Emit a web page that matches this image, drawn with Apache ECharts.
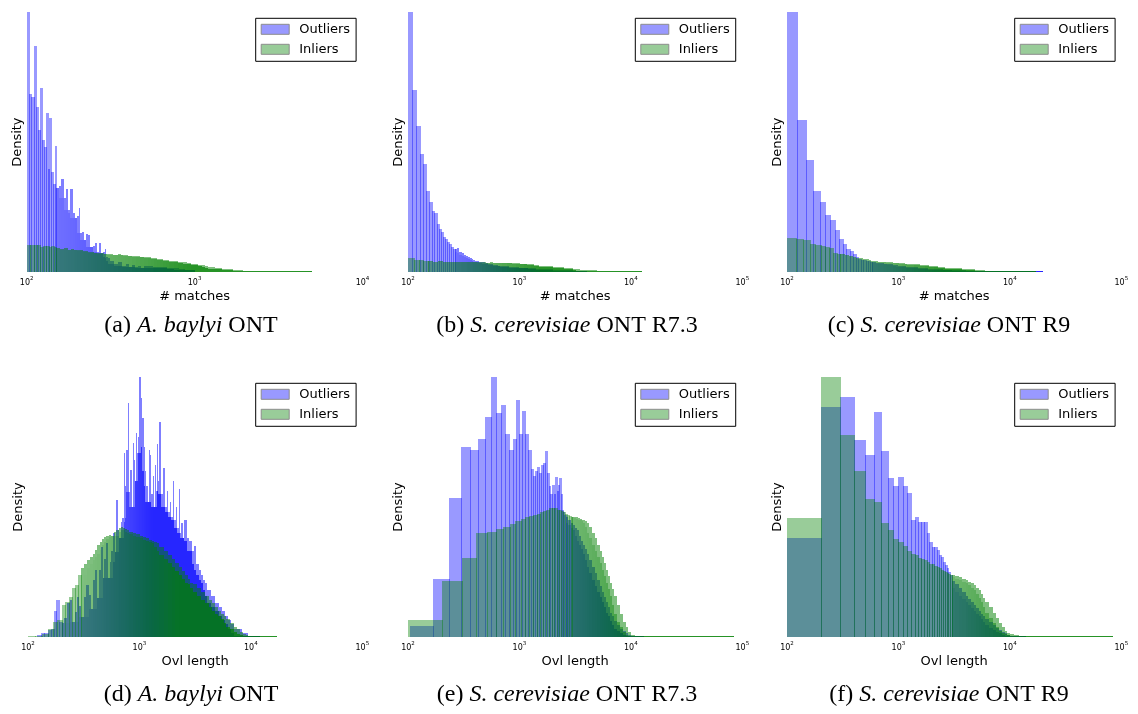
<!DOCTYPE html>
<html>
<head>
<meta charset="utf-8">
<script src="https://cdn.jsdelivr.net/npm/echarts@6/dist/echarts.min.js"></script>
<style>
html,body{margin:0;padding:0;background:#fff;}
#chart{width:1138px;height:714px;}
</style>
</head>
<body>
<div id="chart"></div>
<script>
// ---------------- DATA ----------------
// Each histogram: bin segments [from, to, numberOfBins] (linear bins inside each segment)
// and the bar heights (relative density, 100 = tallest bar of the panel).
// *BinWidth = width of one original histogram bin (data units).

// (a) A. baylyi ONT — # matches
const aOutlierBins = [[100,150,15],[150,225,14],[225,313,12],[313,500,10],[500,1000,8]];
const aOutlierHeights = [100,68.4,67.3,87,63.5,54.7,70.8,50.8,48.1,61.2,39.6,59.3,38.7,33.9,48.5,
  32.4,33.3,35.9,28.7,32,23.9,32,22.7,20.7,21.8,24.7,15,15.4,12.4,
  14.6,14.3,9.6,10,11.3,7.9,11.3,7.3,7.9,8.8,6,5.4,
  4.5,3,3.8,2.5,3.2,2.2,2.8,2,2.4,1.8,
  2.3,2.1,1.9,1.7,1.5,1.2,0.9,0.7];
const aOutlierBinWidth = 3.4;
const aInlierBins = [[100,150,10],[150,250,12],[250,400,12],[400,700,12],[700,1200,10],[1200,2200,8],[2200,5000,6]];
const aInlierHeights = [10.5,10.4,10.6,10.3,9.8,10.2,10.0,9.9,10.1,9.8,
  9.2,8.9,9.3,8.6,8.8,8.5,8.7,8.4,8.2,8.0,7.8,7.7,
  7.6,7.4,7.5,7.1,7.0,7.2,6.8,6.7,6.9,6.6,6.5,6.7,
  6.4,6.2,6.3,6.0,5.9,6.0,5.6,5.5,5.3,5.0,4.9,4.7,
  4.5,4.2,4.0,3.8,3.5,3.3,3.0,2.9,2.7,2.5,
  2.1,1.8,1.4,1.1,0.9,0.7,0.5,0.4,
  0.35,0.3,0.3,0.25,0.25,0.2];
const aInlierBinWidth = 5;

// (b) S. cerevisiae ONT R7.3 — # matches
const bOutlierBins = [[100,262,18],[262,400,10],[400,700,10],[700,1500,8],[1500,4000,5]];
const bOutlierHeights = [100,70,56.2,45.5,41.7,31.2,27,23.6,22.8,18.6,16.6,15.5,13.6,12.8,11.7,10.9,9.7,9.0,
  8.8,9.2,7.8,7.4,6.8,6.4,6.0,5.4,5.1,4.8,
  4.5,4.1,3.8,3.6,3.3,3.1,2.9,2.7,2.6,2.4,
  2.3,2.1,1.9,1.8,1.7,1.6,1.5,1.4,
  1.2,1.0,0.8,0.6,0.4];
const bOutlierBinWidth = 9;
const bInlierBins = [[100,150,4],[150,300,8],[300,700,10],[700,1500,10],[1500,3500,8],[3500,12500,6]];
const bInlierHeights = [5.5,4.6,4.6,4.3,
  4.2,4.1,4.2,4.0,4.1,3.9,4.0,3.9,
  3.9,3.8,3.9,3.8,3.8,3.7,3.8,3.7,3.6,3.7,
  3.6,3.5,3.5,3.4,3.3,3.2,3.1,3.0,2.9,2.8,
  2.5,2.3,2.1,1.9,1.7,1.5,1.3,1.1,
  0.8,0.55,0.4,0.3,0.25,0.2];
const bInlierBinWidth = 12.5;

// (c) S. cerevisiae ONT R9 — # matches
const cOutlierBins = [[100,580,20],[580,1000,8],[1000,2000,6],[2000,5000,6],[5000,17000,3],[17000,19700,1]];
const cOutlierHeights = [100,58.5,43,31.2,27,22,20.1,16.3,12.8,10.8,9.0,8.3,7.0,5.9,5.1,4.9,4.6,4.5,4.2,4.0,
  3.9,3.7,3.5,3.3,3.2,3.0,2.9,2.7,
  2.4,2.1,1.9,1.7,1.5,1.4,
  1.2,1.0,0.9,0.75,0.6,0.5,
  0.3,0.2,0.15,
  0.1];
const cOutlierBinWidth = 24;
const cInlierBins = [[100,300,10],[300,600,10],[600,1200,10],[1200,2600,8],[2600,6000,6],[6000,17000,4]];
const cInlierHeights = [13.1,12.8,12.4,10.8,10.4,10.0,9.6,9.2,7.5,7.2,
  6.9,6.6,6.3,5.9,5.6,5.4,5.2,5.0,4.7,4.5,
  4.2,4.1,4.0,3.9,3.8,3.7,3.6,3.5,3.4,3.2,
  3.1,3.0,2.9,2.7,2.6,2.4,2.2,2.0,
  1.8,1.6,1.4,1.2,1.0,0.7,
  0.5,0.4,0.35,0.3];
const cInlierBinWidth = 20;

// (d) A. baylyi ONT — Ovl length
const dOutlierBins = [[120,200,8],[200,300,8],[300,500,12],[500,700,10],[700,1000,14],[1000,1500,16],[1500,2500,16],[2500,4000,10],[4000,7000,8],[7000,12000,4]];
const dOutlierHeights = [1.0,1.5,1.8,2.8,3.2,10.2,14.3,6.0,
  5.4,7.3,13,14.3,6,9.8,15.6,12,
  7.9,15.6,20,16.2,11,22,25.8,15,25.8,34.8,22.6,30,
  36,22.6,29,33,40,32.9,52.7,41.2,38,44.4,
  45.7,70.6,58,71.9,89.8,55.9,64.2,50,74.4,68,60,78.5,70.6,76.7,
  100,91.7,84,73,64,58,52,72,70,55,62,50,66,56,74,60,
  82.7,55,65,50,56,48,52,46,60,45,50,42,57,40,44,38,
  45,38,37,33,35,28,26,24,22,21,
  18,16,13,11.5,10,8,6.5,5,
  3,1.5,0.6,0.2];
const dOutlierBinWidth = 10;
const dInlierBins = [[100,200,6],[200,300,6],[300,500,10],[500,800,10],[800,1500,10],[1500,3000,10],[3000,6000,10],[6000,10000,8],[10000,17000,4]];
const dInlierHeights = [0.5,0.6,1.4,3.3,5.8,6.5,
  12.4,13.5,15.3,19,20.1,24,
  26.5,28.1,29.5,30.9,32,33.5,35.4,36.5,37.6,38.5,
  38.9,39.3,39,40.5,41.2,41.8,42.5,42,41.5,41,
  40.5,40,39.5,39,38.5,38,37.5,37,36.5,36,
  34.5,33,31.5,30,28.5,27,25.5,24,22.5,21,
  20.5,19,17.5,16,14.5,13,11.5,10,9,8,
  7,5.5,4,3,2,1.4,0.9,0.6,
  0.35,0.3,0.25,0.2];
const dInlierBinWidth = 17;

// (e) S. cerevisiae ONT R7.3 — Ovl length
const eOutlierBins = [[105,2601,39],[2601,4000,10],[4000,7000,12],[7000,10000,6],[10000,13000,2]];
const eOutlierHeights = [4.5,22.4,53.6,72.9,71.9,76,84.7,100,86,89,78,72,76,91,78,87,78,72,64.5,62,
  64,65.5,63,66,67,71.5,63,58,55,58.5,55,61.6,56,58.5,61,55,49,48,47,
  46,45,44,43,42,41,39,37,35.5,34,
  32,29.5,27,24.5,22,19.5,17.5,15.5,13.5,11.5,9.5,8,
  6.2,4.6,3.3,2.3,1.5,1.0,
  0.4,0.2];
const eOutlierBinWidth = 64;
const eInlierBins = [[97,2981,28],[2981,4000,8],[4000,7000,12],[7000,10000,6],[10000,13000,3],[13000,85000,4]];
const eInlierHeights = [6.6,21.6,30.3,40,40.5,41.5,42.5,43.5,44.5,45.5,46,46.5,47,47.5,48,48.5,49,49.5,49.5,49.5,49,49,48.5,48,47.5,47,46.5,46,
  46,46,46,45.8,45.5,45.2,45,44.7,
  44,42.5,40,38,35.5,33,31,28.5,26,23.5,21,18.5,
  16,12.5,9,6,3.8,2.2,
  1.0,0.6,0.4,
  0.3,0.25,0.2,0.15];
const eInlierBinWidth = 103;

// (f) S. cerevisiae ONT R9 — Ovl length
const fOutlierBins = [[100,3000,29],[3000,6000,12],[6000,10000,8],[10000,14000,2]];
const fOutlierHeights = [38,88.3,92.2,75.8,70,86.4,71.6,61.1,57.9,61.5,57.9,55.3,45,46.2,44.4,44.4,44.2,40,36.4,34.8,34.8,33.5,31.6,31,29,27.7,26.5,25.2,23.9,
  21.5,20.5,19,17.5,16,14.8,13.6,12.4,11.2,10,9,8,
  7,5.8,4.7,3.7,2.8,2.1,1.5,1.0,
  0.5,0.2];
const fOutlierBinWidth = 100;
const fInlierBins = [[100,3000,29],[3000,6000,12],[6000,10000,8],[10000,14000,4],[14000,85000,4]];
const fInlierHeights = [45.8,100,77.7,64,53.2,52,43.8,41,37.6,36.4,35,33,32,31.5,30.5,30,29.5,29,28.3,28,27.5,27,26.5,26,25.6,25.2,24.8,24.4,24,
  23.8,23.5,23,22.5,22,21.3,20.7,20,19,18,16.5,15,
  13.5,11.5,9.5,7.5,5.5,3.8,2.6,1.8,
  1.1,0.7,0.45,0.35,
  0.3,0.25,0.2,0.15];
const fInlierBinWidth = 100;

// axes / labels
const seriesNames = ['Outliers', 'Inliers'];
const xAxisNames = ['# matches', '# matches', '# matches', 'Ovl length', 'Ovl length', 'Ovl length'];
const yAxisName = 'Density';
const xAxisMin = 100;
const xAxisMax = [1e4, 1e5, 1e5, 1e5, 1e5, 1e5];
const captionLetters = ['(a)', '(b)', '(c)', '(d)', '(e)', '(f)'];
const captionSpecies = ['A. baylyi', 'S. cerevisiae', 'S. cerevisiae', 'A. baylyi', 'S. cerevisiae', 'S. cerevisiae'];
const captionTech = ['ONT', 'ONT R7.3', 'ONT R9', 'ONT', 'ONT R7.3', 'ONT R9'];

// ---------------- LAYOUT ----------------
const grids = [
  {left: 26.7, top: 12, width: 335.8, height: 260.3},
  {left: 408, top: 12, width: 334.3, height: 260.3},
  {left: 787, top: 12, width: 334.3, height: 260.3},
  {left: 28, top: 376.7, width: 334.3, height: 260.6},
  {left: 408, top: 376.7, width: 334.3, height: 260.6},
  {left: 787, top: 376.7, width: 334.3, height: 260.6}
];
const legendPos = [[255.7, 18.3], [635.3, 18.3], [1014.7, 18.3], [255.7, 383.3], [635.3, 383.3], [1014.7, 383.3]];
const captionX = [191, 567, 949];
const captionY = [326, 695];

const BLUE = '0,0,255';
const GREEN = '0,128,0';
const FONT = 'DejaVu Sans';

const panels = [
  [aOutlierBins, aOutlierHeights, aOutlierBinWidth, aInlierBins, aInlierHeights, aInlierBinWidth],
  [bOutlierBins, bOutlierHeights, bOutlierBinWidth, bInlierBins, bInlierHeights, bInlierBinWidth],
  [cOutlierBins, cOutlierHeights, cOutlierBinWidth, cInlierBins, cInlierHeights, cInlierBinWidth],
  [dOutlierBins, dOutlierHeights, dOutlierBinWidth, dInlierBins, dInlierHeights, dInlierBinWidth],
  [eOutlierBins, eOutlierHeights, eOutlierBinWidth, eInlierBins, eInlierHeights, eInlierBinWidth],
  [fOutlierBins, fOutlierHeights, fOutlierBinWidth, fInlierBins, fInlierHeights, fInlierBinWidth]
];

function buildData(bins, heights) {
  const out = [];
  let k = 0;
  bins.forEach(function (s) {
    const a = s[0], b = s[1], n = s[2];
    for (let i = 0; i < n; i++) {
      out.push([a + (b - a) * i / n, a + (b - a) * (i + 1) / n, heights[k++]]);
    }
  });
  if (k !== heights.length) console.warn('bin/height mismatch', k, heights.length);
  return out;
}

function histSeries(name, rgb, gi, bins, heights, binW) {
  const data = buildData(bins, heights);
  return {
    type: 'custom',
    name: name,
    xAxisIndex: gi,
    yAxisIndex: gi,
    silent: true,
    animation: false,
    itemStyle: {color: 'rgba(' + rgb + ',0.4)'},
    encode: {x: [0, 1], y: 2},
    data: data,
    renderItem: function (params, api) {
      const x0 = api.value(0), x1 = api.value(1), h = api.value(2);
      if (!(h > 0)) return null;
      const cs = params.coordSys;
      const p0 = api.coord([x0, h]);
      const p1 = api.coord([x1, 0]);
      if (p1[0] < cs.x) return null;
      const bottom = Math.round(p1[1]);
      const top = Math.min(Math.round(p0[1]), bottom - 1);
      let left = Math.round(Math.max(p0[0], cs.x));
      let right = Math.round(Math.min(p1[0], cs.x + cs.width));
      const seam = (x1 - x0 <= binW * 1.01);
      if (seam) right = Math.min(right + 1, Math.round(cs.x + cs.width));
      if (right - left < 1) right = left + 1;
      if (seam) {
        return {
          type: 'rect',
          shape: {x: left, y: top, width: right - left, height: bottom - top},
          style: {fill: 'rgba(' + rgb + ',0.4)'}
        };
      }
      // many original bins per drawn bar: overlapping bins give a denser colour
      const xm = Math.sqrt(x0 * x1);
      const pT = api.coord([xm + binW / 2, 0])[0] - api.coord([xm - binW / 2, 0])[0];
      const dense = Math.min(0.85, 1 - Math.pow(0.6, 1 + 1 / pT));
      const i = params.dataIndex;
      let low = h;
      for (let j = i - 2; j <= i + 2; j++) {
        if (j >= 0 && j < data.length) low = Math.min(low, data[j][2]);
      }
      const midY = Math.min(Math.round(api.coord([xm, low])[1]), bottom - 1);
      const children = [{
        type: 'rect',
        shape: {x: left, y: midY, width: right - left, height: bottom - midY},
        style: {fill: 'rgba(' + rgb + ',' + dense.toFixed(3) + ')'}
      }];
      if (midY > top) {
        children.push({
          type: 'rect',
          shape: {x: left, y: top, width: right - left, height: midY - top},
          style: {fill: 'rgba(' + rgb + ',0.5)'}
        });
      }
      return {type: 'group', children: children};
    }
  };
}

const series = [];
panels.forEach(function (p, gi) {
  series.push(histSeries(seriesNames[0], BLUE, gi, p[0], p[1], p[2]));
  series.push(histSeries(seriesNames[1], GREEN, gi, p[3], p[4], p[5]));
});

const xAxes = grids.map(function (g, i) {
  return {
    type: 'log',
    logBase: 10,
    gridIndex: i,
    min: xAxisMin,
    max: xAxisMax[i],
    axisLine: {show: false},
    axisTick: {show: false},
    minorTick: {show: false},
    splitLine: {show: false},
    axisLabel: {
      margin: 3,
      showMinLabel: true,
      showMaxLabel: true,
      formatter: function (v) {
        return '{b|10}{e|' + Math.round(Math.log10(v)) + '}';
      },
      rich: {
        b: {fontSize: 8, fontFamily: FONT, color: '#000', lineHeight: 12, verticalAlign: 'bottom'},
        e: {fontSize: 5.5, fontFamily: FONT, color: '#000', lineHeight: 7, verticalAlign: 'top'}
      }
    },
    name: xAxisNames[i],
    nameLocation: 'middle',
    nameGap: 18,
    nameTextStyle: {fontSize: 13, color: '#000', fontFamily: FONT}
  };
});

const yAxes = grids.map(function (g, i) {
  return {
    type: 'value',
    gridIndex: i,
    min: 0,
    max: 100,
    axisLine: {show: false},
    axisTick: {show: false},
    axisLabel: {show: false},
    splitLine: {show: false},
    name: yAxisName,
    nameLocation: 'middle',
    nameGap: 3,
    nameTextStyle: {fontSize: 13, color: '#000', fontFamily: FONT}
  };
});

const legends = legendPos.map(function (pos) {
  return {
    left: pos[0],
    top: pos[1],
    orient: 'vertical',
    data: seriesNames,
    selectedMode: false,
    icon: 'rect',
    itemWidth: 28,
    itemHeight: 10,
    itemGap: 6,
    padding: [4, 6, 5, 5],
    borderColor: '#000',
    borderWidth: 1,
    borderRadius: 0,
    backgroundColor: '#fff',
    itemStyle: {borderColor: '#8c8c8c', borderWidth: 1},
    textStyle: {fontSize: 13, color: '#000', fontFamily: FONT, lineHeight: 14, padding: [0, 0, 0, 5]}
  };
});

const graphics = captionLetters.map(function (letter, i) {
  return {
    type: 'text',
    x: captionX[i % 3],
    y: captionY[Math.floor(i / 3)],
    silent: true,
    style: {
      text: '{n|' + letter + ' }{i|' + captionSpecies[i] + '}{n| ' + captionTech[i] + '}',
      textAlign: 'center',
      textVerticalAlign: 'middle',
      fill: '#000',
      rich: {
        n: {fontFamily: 'Liberation Serif', fontSize: 24, color: '#000'},
        i: {fontFamily: 'Liberation Serif', fontSize: 24, fontStyle: 'italic', color: '#000'}
      }
    }
  };
});

const chart = echarts.init(document.getElementById('chart'), null, {renderer: 'canvas'});
chart.setOption({
  animation: false,
  backgroundColor: '#fff',
  textStyle: {fontFamily: FONT},
  grid: grids.map(function (g) { return Object.assign({containLabel: false}, g); }),
  xAxis: xAxes,
  yAxis: yAxes,
  legend: legends,
  series: series,
  graphic: graphics
});
</script>
</body>
</html>
